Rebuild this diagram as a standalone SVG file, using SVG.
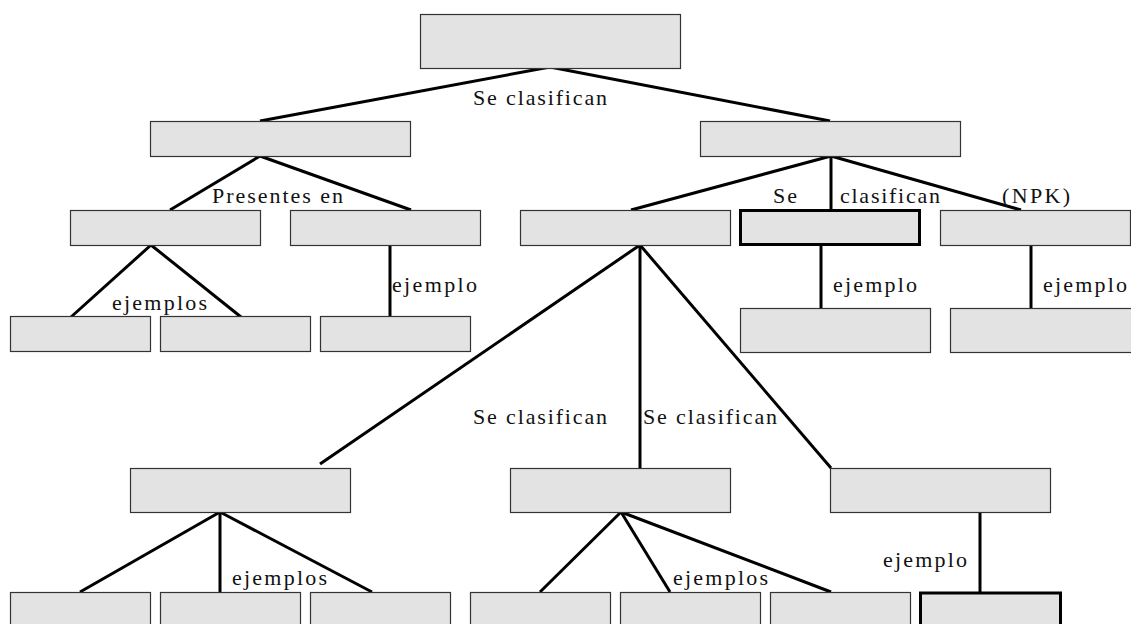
<svg xmlns="http://www.w3.org/2000/svg" width="1131" height="624" viewBox="0 0 1131 624">
<style>
.n{fill:#e3e3e3;stroke:#333;stroke-width:1.2}
.b{fill:#e3e3e3;stroke:#000;stroke-width:3}
.c line{stroke:#000;stroke-width:3;stroke-linecap:butt}
.t{font-family:'Liberation Serif','Times New Roman',Times,serif;font-size:22px;fill:#111}
</style>
<rect width="1131" height="624" fill="#fff"/>
<g class="c" id="connectors">
<line x1="550" y1="67" x2="260" y2="121"/>
<line x1="550" y1="67" x2="830" y2="121"/>
<line x1="260" y1="156" x2="170" y2="210"/>
<line x1="260" y1="156" x2="411" y2="210"/>
<line x1="151" y1="245" x2="71" y2="317"/>
<line x1="151" y1="245" x2="241" y2="317"/>
<line x1="390" y1="245" x2="390" y2="317"/>
<line x1="831" y1="156" x2="631" y2="210"/>
<line x1="831" y1="156" x2="831" y2="210"/>
<line x1="831" y1="156" x2="1021" y2="210"/>
<line x1="821" y1="245" x2="821" y2="308"/>
<line x1="1031" y1="245" x2="1031" y2="308"/>
<line x1="640" y1="245" x2="320" y2="464"/>
<line x1="640" y1="245" x2="640" y2="469"/>
<line x1="640" y1="245" x2="831" y2="468"/>
<line x1="220" y1="512" x2="80" y2="592"/>
<line x1="220" y1="512" x2="220" y2="592"/>
<line x1="220" y1="512" x2="372" y2="592"/>
<line x1="621" y1="512" x2="540" y2="592"/>
<line x1="621" y1="512" x2="670" y2="592"/>
<line x1="621" y1="512" x2="831" y2="592"/>
<line x1="980" y1="512" x2="980" y2="592"/>
</g>
<g id="n0"><rect class="n" x="420.5" y="14.5" width="260" height="54"/></g>
<g id="n1"><rect class="n" x="150.5" y="121.5" width="260" height="35"/></g>
<g id="n2"><rect class="n" x="700.5" y="121.5" width="260" height="35"/></g>
<g id="n3"><rect class="n" x="70.5" y="210.5" width="190" height="35"/></g>
<g id="n4"><rect class="n" x="290.5" y="210.5" width="190" height="35"/></g>
<g id="n5"><rect class="n" x="520.5" y="210.5" width="210" height="35"/></g>
<g id="n6"><rect class="b" x="740.5" y="210.5" width="179" height="34"/></g>
<g id="n7"><rect class="n" x="940.5" y="210.5" width="190" height="35"/></g>
<g id="n8"><rect class="n" x="10.5" y="316.5" width="140" height="35"/></g>
<g id="n9"><rect class="n" x="160.5" y="316.5" width="150" height="35"/></g>
<g id="n10"><rect class="n" x="320.5" y="316.5" width="150" height="35"/></g>
<g id="n11"><rect class="n" x="740.5" y="308.5" width="190" height="44"/></g>
<g id="n12"><rect class="n" x="950.5" y="308.5" width="190" height="44"/></g>
<g id="n13"><rect class="n" x="130.5" y="468.5" width="220" height="44"/></g>
<g id="n14"><rect class="n" x="510.5" y="468.5" width="220" height="44"/></g>
<g id="n15"><rect class="n" x="830.5" y="468.5" width="220" height="44"/></g>
<g id="n16"><rect class="n" x="10.5" y="592.5" width="140" height="44"/></g>
<g id="n17"><rect class="n" x="160.5" y="592.5" width="140" height="44"/></g>
<g id="n18"><rect class="n" x="310.5" y="592.5" width="140" height="44"/></g>
<g id="n19"><rect class="n" x="470.5" y="592.5" width="140" height="44"/></g>
<g id="n20"><rect class="n" x="620.5" y="592.5" width="140" height="44"/></g>
<g id="n21"><rect class="n" x="770.5" y="592.5" width="140" height="44"/></g>
<g id="n22"><rect class="b" x="920.5" y="593" width="140" height="44"/></g>
<g id="labels">
<text class="t" x="473" y="105" textLength="134" lengthAdjust="spacing">Se clasifican</text>
<text class="t" x="212" y="203" textLength="131" lengthAdjust="spacing">Presentes en</text>
<text class="t" x="112" y="310" textLength="95" lengthAdjust="spacing">ejemplos</text>
<text class="t" x="392" y="292" textLength="85" lengthAdjust="spacing">ejemplo</text>
<text class="t" x="773" y="203" textLength="24" lengthAdjust="spacing">Se</text>
<text class="t" x="840" y="203" textLength="100" lengthAdjust="spacing">clasifican</text>
<text class="t" x="1002" y="203" textLength="68" lengthAdjust="spacing">(NPK)</text>
<text class="t" x="833" y="292" textLength="84" lengthAdjust="spacing">ejemplo</text>
<text class="t" x="1043" y="292" textLength="84" lengthAdjust="spacing">ejemplo</text>
<text class="t" x="473" y="424" textLength="134" lengthAdjust="spacing">Se clasifican</text>
<text class="t" x="643" y="424" textLength="134" lengthAdjust="spacing">Se clasifican</text>
<text class="t" x="232" y="585" textLength="95" lengthAdjust="spacing">ejemplos</text>
<text class="t" x="673" y="585" textLength="95" lengthAdjust="spacing">ejemplos</text>
<text class="t" x="883" y="567" textLength="84" lengthAdjust="spacing">ejemplo</text>
</g>
</svg>
